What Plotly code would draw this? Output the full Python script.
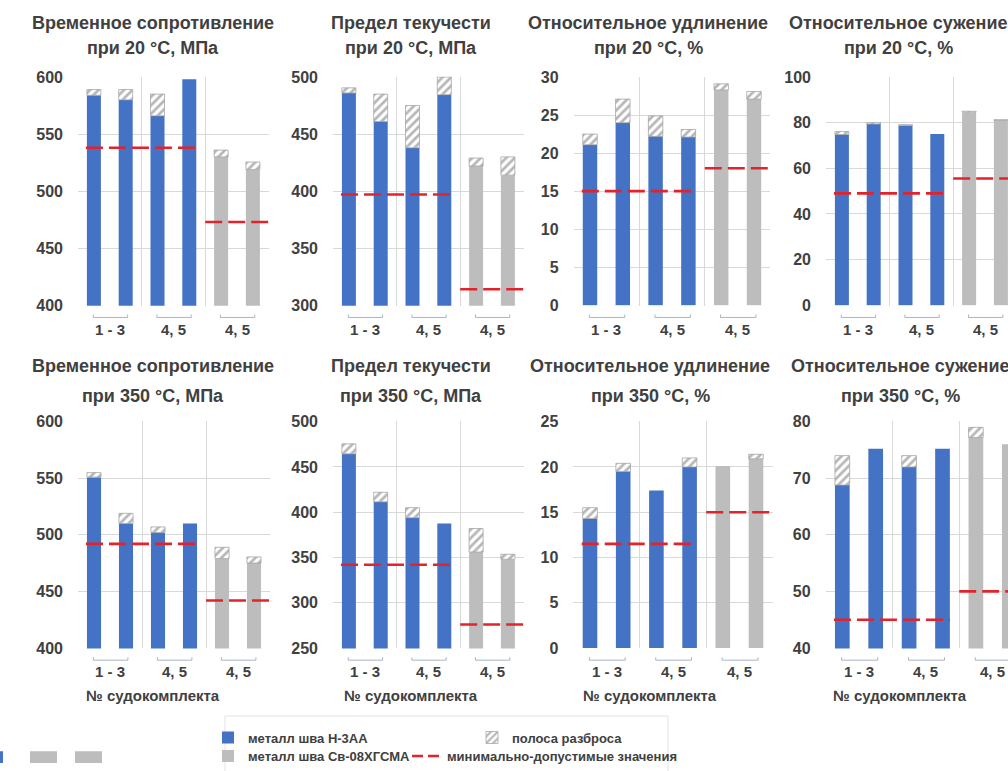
import plotly.graph_objects as go

# ---------------- data ----------------
positions = [0, 1, 2, 3, 4, 5]          # six specimens per panel
blue_count = 4                          # first four: metal H-3AA, last two: Св-08ХГСМА
group_labels = ["1 - 3", "4, 5", "4, 5"]
group_span = [(0, 1), (2, 3), (4, 5)]

title_line1 = ["Временное сопротивление", "Предел текучести",
               "Относительное удлинение", "Относительное сужение",
               "Временное сопротивление", "Предел текучести",
               "Относительное удлинение", "Относительное сужение"]
title_line2 = ["при 20 °C, МПа", "при 20 °C, МПа", "при 20 °C, %", "при 20 °C, %",
               "при 350 °C, МПа", "при 350 °C, МПа", "при 350 °C, %", "при 350 °C, %"]
x_title = "№ судокомплекта"

series_names = ["металл шва Н-3АА", "металл шва Св-08ХГСМА",
                "полоса разброса", "минимально-допустимые значения"]

uts20_min = [584, 580, 566, 598, 530, 519]
uts20_max = [589, 589, 585, 598, 536, 525.5]
uts20_req = [538, 473]

ys20_min = [486, 461, 438, 484.5, 422, 414]
ys20_max = [490.5, 485, 475, 500, 429, 430]
ys20_req = [397, 314]

el20_min = [21.1, 24.0, 22.2, 22.1, 28.3, 27.1]
el20_max = [22.5, 27.1, 24.9, 23.1, 29.1, 28.1]
el20_req = [15, 18]

ra20_min = [74.8, 79.4, 78.8, 75.0, 84.6, 81.0]
ra20_max = [76.1, 80.0, 79.1, 75.0, 85.0, 81.3]
ra20_req = [49, 55.5]

uts350_min = [551, 510, 502, 510, 479, 475]
uts350_max = [555, 519, 507, 510, 489, 480.5]
uts350_req = [492, 442]

ys350_min = [464.5, 411.5, 394, 387.5, 356, 348]
ys350_max = [475.5, 422, 405, 387.5, 382, 353.5]
ys350_req = [342, 276]

el350_min = [14.3, 19.5, 17.4, 20.0, 20.1, 20.9]
el350_max = [15.5, 20.4, 17.4, 21.0, 20.1, 21.4]
el350_req = [11.5, 15]

ra350_min = [68.8, 75.2, 72.0, 75.2, 77.2, 76.0]
ra350_max = [74.0, 75.2, 74.0, 75.2, 79.0, 76.0]
ra350_req = [45, 50]

y_axes = [(400, 600, 50), (300, 500, 50), (0, 30, 5), (0, 100, 20),
          (400, 600, 50), (250, 500, 50), (0, 25, 5), (40, 80, 10)]

panels = [(uts20_min, uts20_max, uts20_req), (ys20_min, ys20_max, ys20_req),
          (el20_min, el20_max, el20_req), (ra20_min, ra20_max, ra20_req),
          (uts350_min, uts350_max, uts350_req), (ys350_min, ys350_max, ys350_req),
          (el350_min, el350_max, el350_req), (ra350_min, ra350_max, ra350_req)]

# cropped neighbour chart visible at the bottom-left edge
edge_positions = [0, 1, 2]
edge_values = [1, 1, 1]

# ---------------- layout constants ----------------
W, H = 1008, 771
BLUE = "#4472C4"
GRAY = "#BDBDBD"
RED = "#E3232B"
GRID = "#D9D9D9"
TXT = "#404040"
FONT = "Liberation Sans, Arial, sans-serif"
BW = 0.44

# (plot left px, category spacing px, plot top px, plot bottom px)
TOP_ROW = (70, 304)
BOT_ROW = (422, 654)
geom = [(78, 31.8) + TOP_ROW, (333, 31.8) + TOP_ROW, (573.6, 32.8) + TOP_ROW, (826, 31.8) + TOP_ROW,
        (78, 32.0) + BOT_ROW, (333, 31.8) + BOT_ROW, (573.4, 33.2) + BOT_ROW, (825.6, 33.4) + BOT_ROW]
title_cx = [153, 411, 648, 898, 153, 411, 650, 900]
title_y = [(15, 41)] * 4 + [(366, 396)] * 4

fig = go.Figure()
layout = dict(
    width=W, height=H, margin=dict(l=0, r=0, t=0, b=0),
    paper_bgcolor="white", plot_bgcolor="white",
    barmode="overlay", showlegend=True,
    font=dict(family=FONT, color=TXT),
)
annotations = []
shapes = []

for i, (mn, mx, req) in enumerate(panels):
    k = i + 1
    xa = "x" if k == 1 else f"x{k}"
    ya = "y" if k == 1 else f"y{k}"
    left, sp, top, bottom = geom[i]
    right = min(left + 6 * sp, W)
    xr = [-0.5, -0.5 + (right - left) / sp]
    r0, r1, step = y_axes[i]
    eps = (r1 - r0) * 0.002

    fig.add_bar(x=positions[:blue_count], y=mn[:blue_count], width=BW,
                marker=dict(color=BLUE, line=dict(width=0)), name=series_names[0],
                xaxis=xa, yaxis=ya, showlegend=(k == 1), legend="legend",
                legendwidth=219)
    fig.add_bar(x=positions[blue_count:], y=mn[blue_count:], width=BW,
                marker=dict(color=GRAY, line=dict(width=0)), name=series_names[1],
                xaxis=xa, yaxis=ya, showlegend=(k == 1), legend="legend2",
                legendwidth=154)
    spread = [(b - a) if (b - a) > 0 else None for a, b in zip(mn, mx)]
    fig.add_bar(x=positions, y=spread, base=mn, width=BW,
                marker=dict(color="white",
                            pattern=dict(shape="/", fgcolor="#6E6E6E", bgcolor="white",
                                         size=6, solidity=0.45),
                            line=dict(color="#A6A6A6", width=0.8)),
                name=series_names[2], xaxis=xa, yaxis=ya,
                showlegend=(k == 1), legend="legend", legendwidth=160)
    fig.add_scatter(x=[-0.25, 3.22, None, 3.5, 5.5],
                    y=[req[0], req[0], None, req[1], req[1]],
                    mode="lines", line=dict(color=RED, width=2.6, dash="17px,6px"),
                    xaxis=xa, yaxis=ya, showlegend=False, hoverinfo="skip")

    layout["xaxis" if k == 1 else f"xaxis{k}"] = dict(
        domain=[left / W, right / W], range=xr, anchor=ya,
        tickmode="array", tickvals=[1.5, 3.5], showticklabels=False,
        showgrid=True, gridcolor=GRID, gridwidth=1, zeroline=False,
        showline=False, ticks="", fixedrange=True)
    layout["yaxis" if k == 1 else f"yaxis{k}"] = dict(
        domain=[1 - bottom / H, 1 - top / H], range=[r0 - eps, r1 + eps], anchor=xa,
        tickmode="linear", tick0=r0, dtick=step,
        showgrid=True, gridcolor=GRID, gridwidth=1, zeroline=False, showline=False,
        ticks="", ticklabelstandoff=14,
        tickfont=dict(family=FONT, size=16, color=TXT, weight="bold"), fixedrange=True)

    # titles
    for line_text, ly in zip((title_line1[i], title_line2[i]), title_y[i]):
        annotations.append(dict(text=line_text, x=title_cx[i] / W, y=1 - ly / H,
                                xref="paper", yref="paper", showarrow=False,
                                xanchor="center", yanchor="middle",
                                font=dict(family=FONT, size=18, color=TXT, weight="bold")))

    # group brackets + labels
    br_y = bottom + 12
    lab_y = bottom + 24
    for (g0, g1), lab in zip(group_span, group_labels):
        fx0 = (g0 - 0.02 - xr[0]) / (xr[1] - xr[0])
        fx1 = (g1 + 0.06 - xr[0]) / (xr[1] - xr[0])
        yb = 1 - br_y / H
        yt = 1 - (br_y - 3) / H
        shapes.append(dict(type="path", xref=f"{xa} domain", yref="paper",
                           path=f"M {fx0},{yt} L {fx0},{yb} L {fx1},{yb} L {fx1},{yt}",
                           line=dict(color="#A9B4C8", width=1)))
        fc = ((g0 + g1) / 2 - xr[0]) / (xr[1] - xr[0])
        annotations.append(dict(text=lab, x=fc, y=1 - lab_y / H, xref=f"{xa} domain",
                                yref="paper", showarrow=False, xanchor="center",
                                yanchor="middle",
                                font=dict(family=FONT, size=15, color=TXT, weight="bold")))
    if k > 4:
        annotations.append(dict(text=x_title, x=title_cx[i] / W,
                                y=1 - 702 / H, xref="paper", yref="paper",
                                showarrow=False, xanchor="center", yanchor="middle",
                                font=dict(family=FONT, size=15, color=TXT, weight="bold")))

# legend-only sample for the dashed requirement line
fig.add_scatter(x=[None], y=[None], mode="lines", name=series_names[3],
                line=dict(color=RED, width=2.5, dash="11px,5px"),
                legend="legend2", showlegend=True, legendwidth=260)

# cropped neighbouring chart at the lower-left edge
fig.add_bar(x=edge_positions, y=edge_values, width=[0.2, 0.6, 0.6],
            marker=dict(color=[BLUE, GRAY, GRAY], line=dict(width=0)),
            xaxis="x9", yaxis="y9", showlegend=False, hoverinfo="skip")
layout["xaxis9"] = dict(domain=[0, 117 / W], range=[0.033, 2.633], anchor="y9",
                        visible=False, fixedrange=True)
layout["yaxis9"] = dict(domain=[0, 15 / H], range=[0, 1.25], anchor="x9",
                        tickvals=[1.25], showticklabels=False, showgrid=True,
                        gridcolor="#E6E6E6", zeroline=False, showline=False,
                        fixedrange=True)

leg_common = dict(orientation="h", xanchor="left", yanchor="middle",
                  font=dict(family=FONT, size=13, color=TXT, weight="bold"),
                  bgcolor="rgba(0,0,0,0)", borderwidth=0, traceorder="normal",
                  itemclick=False, itemdoubleclick=False)
layout["legend"] = dict(x=208 / W, y=1 - 745 / H, **leg_common)
layout["legend2"] = dict(x=208 / W, y=1 - 764 / H, **leg_common)

shapes.append(dict(type="rect", xref="paper", yref="paper",
                   x0=225 / W, x1=668 / W, y0=1 - 723 / H, y1=-0.02,
                   line=dict(color="#E3E3E3", width=1), fillcolor="rgba(0,0,0,0)"))

layout["annotations"] = annotations
layout["shapes"] = shapes
fig.update_layout(**layout)
fig.write_html("out.html")
